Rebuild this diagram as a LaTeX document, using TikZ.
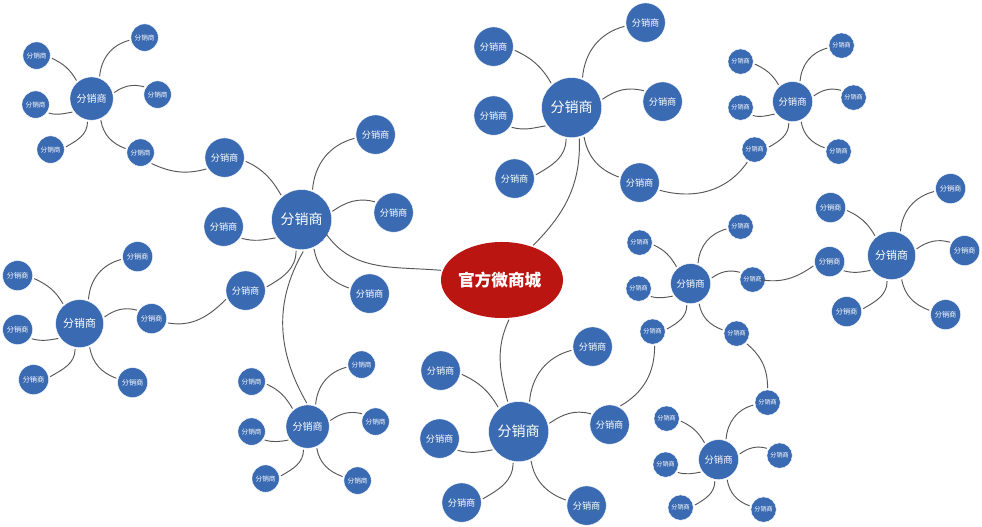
\documentclass[tikz,border=0pt]{standalone}
\usepackage{fontspec}
\usetikzlibrary{shapes.geometric}
\setmainfont{Noto Sans CJK SC}
\definecolor{hubblue}{HTML}{3A6AB2}
\definecolor{corered}{HTML}{BA1511}
\definecolor{linkgrey}{HTML}{5A5558}
\tikzset{
 x=0.75pt,y=0.75pt,
 base/.style={circle,fill=hubblue,draw=white,line width=0.3pt,text=white,inner sep=0pt,outer sep=1.4pt},
 hubXL/.style={base,minimum size=45pt,font=\fontsize{10.5}{12}\selectfont},
 hubL/.style={base,minimum size=36pt,font=\fontsize{8.2}{10}\selectfont},
 hubM/.style={base,minimum size=32.5pt,font=\fontsize{7.5}{9}\selectfont},
 hubS/.style={base,minimum size=30pt,font=\fontsize{7}{9}\selectfont},
 satL/.style={base,minimum size=29.5pt,font=\fontsize{6.9}{8}\selectfont},
 satN/.style={base,minimum size=22.5pt,font=\fontsize{5.4}{6}\selectfont},
 satM/.style={base,minimum size=20.5pt,font=\fontsize{5}{6}\selectfont},
 satS/.style={base,minimum size=19pt,font=\fontsize{4.6}{6}\selectfont},
 core/.style={ellipse,fill=corered,text=white,minimum width=91.5pt,minimum height=57pt,inner ysep=0pt,inner xsep=-1pt,outer sep=1.4pt,font=\fontsize{12.5}{14}\selectfont\bfseries},
 link/.style={draw=linkgrey,line width=0.7pt},
}
\newcommand{\nd}[4]{\node[#2] (#1) at ({#3+0.6},{527-#4-0.6}) {分销商};}
\newcommand{\links}[1]{%
 \draw[link] (#1ul.-10) to[out=-25,in=120] (#1h.130);
 \draw[link] (#1h.70) to[out=85,in=195] (#1ur.190);
 \draw[link] (#1h.15) to[out=35,in=165] (#1r.150);
 \draw[link] (#1l.-33) to[out=-15,in=190] (#1h.215);
 \draw[link] (#1h.260) to[out=-90,in=30] (#1ll.10);
 \draw[link] (#1h.-67) to[out=-80,in=160] (#1lr.165);}
\begin{document}
\begin{tikzpicture}
\useasboundingbox (0,0) rectangle (982,527);
\fill[white] (0,0) rectangle (982,527);
\node[core] (core) at (502,247) {官方微商城\kern3.5pt};

\nd{ah}{hubM}{91}{98}
\nd{aul}{satM}{36}{55}\nd{aur}{satM}{144}{37}\nd{ar}{satM}{157}{94}
\nd{al}{satM}{35}{104}\nd{all}{satM}{50}{149}\nd{alr}{satM}{140}{152}
\links{a}

\nd{bh}{hubXL}{301}{219}
\nd{bul}{satL}{224}{157}\nd{bur}{satL}{375}{134}\nd{br}{satL}{393}{212}
\nd{bl}{satL}{223}{226}\nd{bll}{satL}{245}{290}\nd{blr}{satL}{369}{293}
\links{b}

\nd{ch}{hubL}{79}{323}
\nd{cul}{satN}{17}{275}\nd{cur}{satN}{137}{256}\nd{cr}{satN}{151}{318}
\nd{cl}{satN}{17}{329}\nd{cll}{satN}{33}{379}\nd{clr}{satN}{132}{382}
\links{c}

\nd{dh}{hubM}{307}{426}
\nd{dul}{satM}{251}{381}\nd{dur}{satM}{361}{364}\nd{dr}{satM}{375}{421}
\nd{dl}{satM}{251}{431}\nd{dll}{satM}{265}{478}\nd{dlr}{satM}{357}{480}
\links{d}

\nd{eh}{hubXL}{571}{107}
\nd{eul}{satL}{493}{46}\nd{eur}{satL}{645}{22}\nd{er}{satL}{662}{101}
\nd{el}{satL}{493}{115}\nd{ell}{satL}{514}{178}\nd{elr}{satL}{639}{182}
\links{e}

\nd{fh}{hubS}{792}{101}
\nd{ful}{satS}{740}{61}\nd{fur}{satS}{841}{45}\nd{fr}{satS}{853}{97}
\nd{fl}{satS}{740}{107}\nd{fll}{satS}{754}{149}\nd{flr}{satS}{838}{151}
\links{f}

\nd{gh}{hubXL}{518}{431}
\nd{gul}{satL}{440}{370}\nd{gur}{satL}{592}{346}\nd{gr}{satL}{609}{424}
\nd{gl}{satL}{439}{438}\nd{gll}{satL}{461}{502}\nd{glr}{satL}{586}{505}
\links{g}

\nd{hh}{hubS}{690}{283}
\nd{hul}{satS}{639}{242}\nd{hur}{satS}{740}{226}\nd{hr}{satS}{752}{279}
\nd{hl}{satS}{638}{288}\nd{hll}{satS}{652}{331}\nd{hlr}{satS}{736}{333}
\links{h}

\nd{ih}{hubL}{891}{255}
\nd{iul}{satN}{830}{207}\nd{iur}{satN}{950}{188}\nd{ir}{satN}{964}{250}
\nd{il}{satN}{829}{261}\nd{ill}{satN}{846}{311}\nd{ilr}{satN}{945}{314}
\links{i}

\nd{jh}{hubS}{718}{459}
\nd{jul}{satS}{666}{418}\nd{jur}{satS}{767}{402}\nd{jr}{satS}{779}{455}
\nd{jl}{satS}{665}{464}\nd{jll}{satS}{680}{507}\nd{jlr}{satS}{763}{509}
\links{j}

\draw[link] (alr.-45) to[out=-25,in=195] (bul.212);
\draw[link] (cr.-15) to[out=-10,in=225] (bll.204);
\draw[link] (bh.-87) to[out=-120,in=120] (dh.92);
\draw[link] ([xshift=-2pt,yshift=1.5pt]bh.-31) to[out=-55,in=175] (core.171);
\draw[link] (core.48) to[out=45,in=-88] (eh.-76);
\draw[link] (core.-80) to[out=-115,in=105] (gh.110);
\draw[link] (elr.-21) to[out=-15,in=-125] (fll.-120);
\draw[link] (gr.60) to[out=30,in=-90] (hll.-82);
\draw[link] ([xshift=-5.5pt]hr.east) to[out=-10,in=215] (il.195);
\draw[link] (hlr.-45) to[out=-40,in=90] (jur.90);
\end{tikzpicture}
\end{document}
